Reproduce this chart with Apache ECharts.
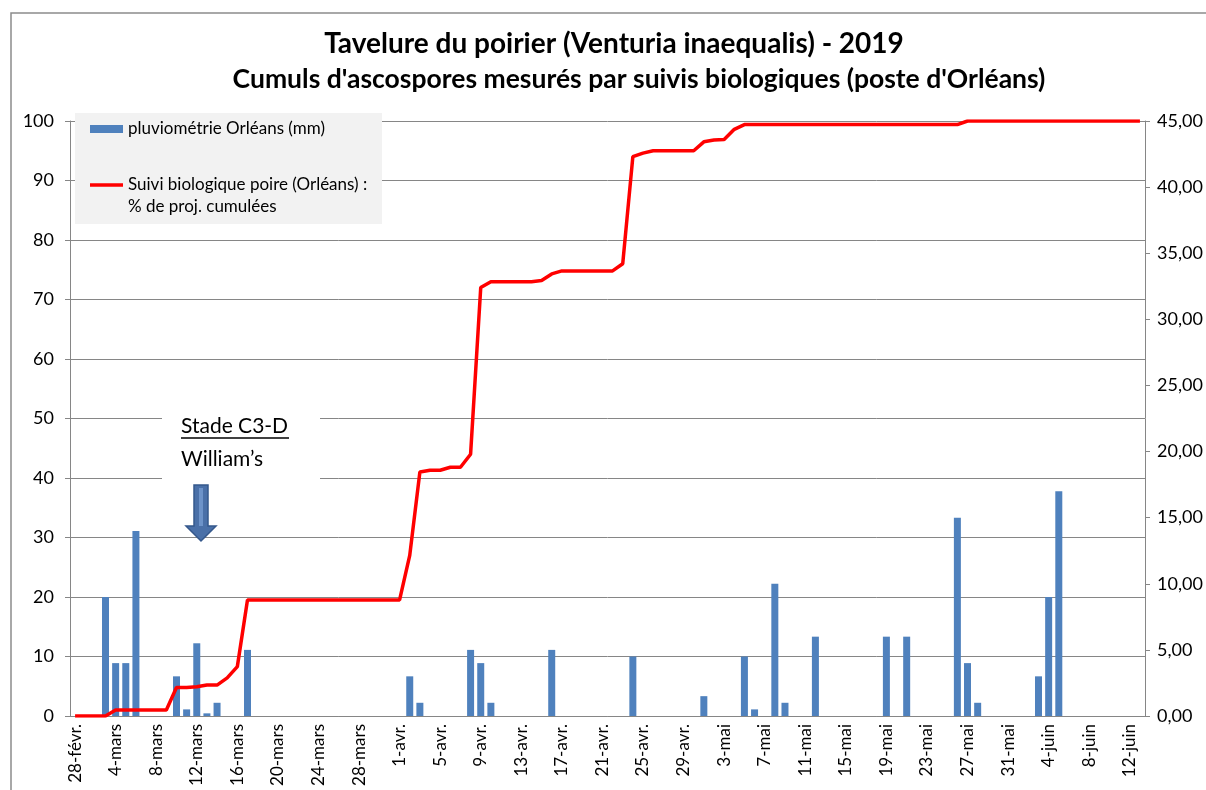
<!DOCTYPE html>
<html>
<head>
<meta charset="utf-8">
<script src="https://cdn.jsdelivr.net/npm/echarts@6/dist/echarts.min.js"></script>
<style>
  html, body { margin: 0; padding: 0; background: #fff; }
  #chart { width: 1206px; height: 790px; }
</style>
</head>
<body>
<div id="chart"></div>
<script>
// mois affichés sur l'axe : [libellé, premier jour, dernier jour]
var months = [['févr.', 28, 28], ['mars', 1, 31], ['avr.', 1, 30], ['mai', 1, 31], ['juin', 1, 13]];
var days = [];
months.forEach(function (m) {
    for (var d = m[1]; d <= m[2]; d++) days.push(d + '-' + m[0]);
});

// pluviométrie journalière (mm), axe de droite
var rain = [
    0, 0, 0, 9, 4, 4, 14, 0, 0, 0,
    3, 0.5, 5.5, 0.2, 1, 0, 0, 5, 0, 0,
    0, 0, 0, 0, 0, 0, 0, 0, 0, 0,
    0, 0, 0, 3, 1, 0, 0, 0, 0, 5,
    4, 1, 0, 0, 0, 0, 0, 5, 0, 0,
    0, 0, 0, 0, 0, 4.5, 0, 0, 0, 0,
    0, 0, 1.5, 0, 0, 0, 4.5, 0.5, 0, 10,
    1, 0, 0, 6, 0, 0, 0, 0, 0, 0,
    6, 0, 6, 0, 0, 0, 0, 15, 4, 1,
    0, 0, 0, 0, 0, 3, 9, 17, 0, 0,
    0, 0, 0, 0, 0, 0
];

// % de projections cumulées, axe de gauche
var cumul = [
    0, 0, 0, 0, 1, 1, 1, 1, 1, 1,
    4.8, 4.8, 4.9, 5.2, 5.2, 6.4, 8.3, 19.5, 19.5, 19.5,
    19.5, 19.5, 19.5, 19.5, 19.5, 19.5, 19.5, 19.5, 19.5, 19.5,
    19.5, 19.5, 19.5, 27, 41, 41.3, 41.3, 41.8, 41.8, 44,
    72, 73, 73, 73, 73, 73, 73.2, 74.3, 74.8, 74.8,
    74.8, 74.8, 74.8, 74.8, 76, 94, 94.6, 95, 95, 95,
    95, 95, 96.5, 96.8, 96.9, 98.6, 99.4, 99.4, 99.4, 99.4,
    99.4, 99.4, 99.4, 99.4, 99.4, 99.4, 99.4, 99.4, 99.4, 99.4,
    99.4, 99.4, 99.4, 99.4, 99.4, 99.4, 99.4, 99.4, 100, 100,
    100, 100, 100, 100, 100, 100, 100, 100, 100, 100,
    100, 100, 100, 100, 100, 100
];

var rainName = 'pluviométrie Orléans (mm)';
var cumulName = 'Suivi biologique poire (Orléans) :\n% de proj. cumulées';

var font = 'Lato, "Open Sans", sans-serif';
var gridColor = '#868686';

var chart = echarts.init(document.getElementById('chart'));
var option = {
    animation: false,
    textStyle: { fontFamily: font },
    grid: { left: 70, right: 61, top: 121, bottom: 74 },
    legend: {
        orient: 'vertical',
        left: 75,
        top: 113,
        padding: [5, 10, 6, 15],
        itemGap: 12,
        itemWidth: 33,
        itemHeight: 8,
        itemTextGap: 4,
        textStyle: { fontSize: 17, color: '#000', fontFamily: font, lineHeight: 22 },
        // ligne vide en tête pour que la 1re ligne du libellé soit au niveau du trait
        formatter: function (name) { return name === cumulName ? '\n' + name : name; },
        data: [
            { name: rainName, icon: 'rect' },
            { name: cumulName, icon: 'path://M0,2.2 L33,2.2 L33,5.8 L0,5.8 Z M0,0 L0,8' }
        ]
    },
    xAxis: {
        type: 'category',
        data: days,
        axisLine: { lineStyle: { color: gridColor } },
        axisTick: { interval: 3, length: 6, lineStyle: { color: gridColor } },
        axisLabel: { interval: 3, rotate: 90, fontSize: 17, color: '#000', margin: 8 }
    },
    yAxis: [{
        type: 'value',
        min: 0, max: 100, interval: 10,
        axisLine: { show: true, lineStyle: { color: gridColor } },
        axisTick: { show: true, length: 5, lineStyle: { color: gridColor } },
        splitLine: { lineStyle: { color: gridColor } },
        axisLabel: { fontSize: 18, color: '#000', margin: 16 }
    }, {
        type: 'value',
        min: 0, max: 45, interval: 5,
        axisLine: { show: true, lineStyle: { color: gridColor } },
        axisTick: { show: true, length: 5, lineStyle: { color: gridColor } },
        splitLine: { show: false },
        axisLabel: {
            fontSize: 18, color: '#000', margin: 12,
            formatter: function (v) { return v.toFixed(2).replace('.', ','); }
        }
    }],
    series: [{
        name: rainName,
        type: 'bar',
        yAxisIndex: 1,
        data: rain,
        barWidth: 7,
        itemStyle: { color: '#4f81bd' }
    }, {
        name: cumulName,
        type: 'line',
        yAxisIndex: 0,
        data: cumul,
        symbol: 'none',
        lineStyle: { color: '#ff0000', width: 3.5 },
        itemStyle: { color: '#ff0000' },
        z: 3
    }],
    graphic: [
        // cadre de la zone de graphique
        { type: 'rect', shape: { x: 11, y: 13, width: 1300, height: 900 }, style: { fill: 'none', stroke: '#8c8c8c', lineWidth: 1.5 }, silent: true },
        // fond gris de la légende
        { type: 'rect', z: 3, shape: { x: 75, y: 113, width: 307, height: 111 }, style: { fill: '#f2f2f2' }, silent: true },
        // titre
        { type: 'text', x: 614, y: 44, style: { text: 'Tavelure du poirier (Venturia inaequalis) - 2019', align: 'center', verticalAlign: 'middle', font: 'bold 28px ' + font, fill: '#000' } },
        { type: 'text', x: 639, y: 79, style: { text: "Cumuls d'ascospores mesurés par suivis biologiques (poste d'Orléans)", align: 'center', verticalAlign: 'middle', font: 'bold 26.5px ' + font, fill: '#000' } },
        // annotation du stade
        { type: 'rect', z: 10, shape: { x: 162, y: 404, width: 158, height: 80 }, style: { fill: '#fff' }, silent: true },
        { type: 'text', z: 11, x: 181, y: 426, style: { text: 'Stade C3-D', verticalAlign: 'middle', font: '21px ' + font, fill: '#000' } },
        { type: 'line', z: 11, shape: { x1: 181, y1: 438, x2: 289, y2: 438 }, style: { stroke: '#000', lineWidth: 1.5 } },
        { type: 'text', z: 11, x: 181, y: 459, style: { text: 'William’s', verticalAlign: 'middle', font: '21px ' + font, fill: '#000' } },
        {
            type: 'polygon', z: 11,
            shape: { points: [[194, 485], [208, 485], [208, 526], [216, 526], [201, 541], [186, 526], [194, 526]] },
            style: { fill: '#4a70a8', stroke: '#35588c', lineWidth: 1.5 }
        },
        { type: 'rect', z: 12, shape: { x: 199, y: 488, width: 4, height: 38 }, style: { fill: '#6d93c9' } }
    ]
};
chart.setOption(option);
</script>
</body>
</html>
